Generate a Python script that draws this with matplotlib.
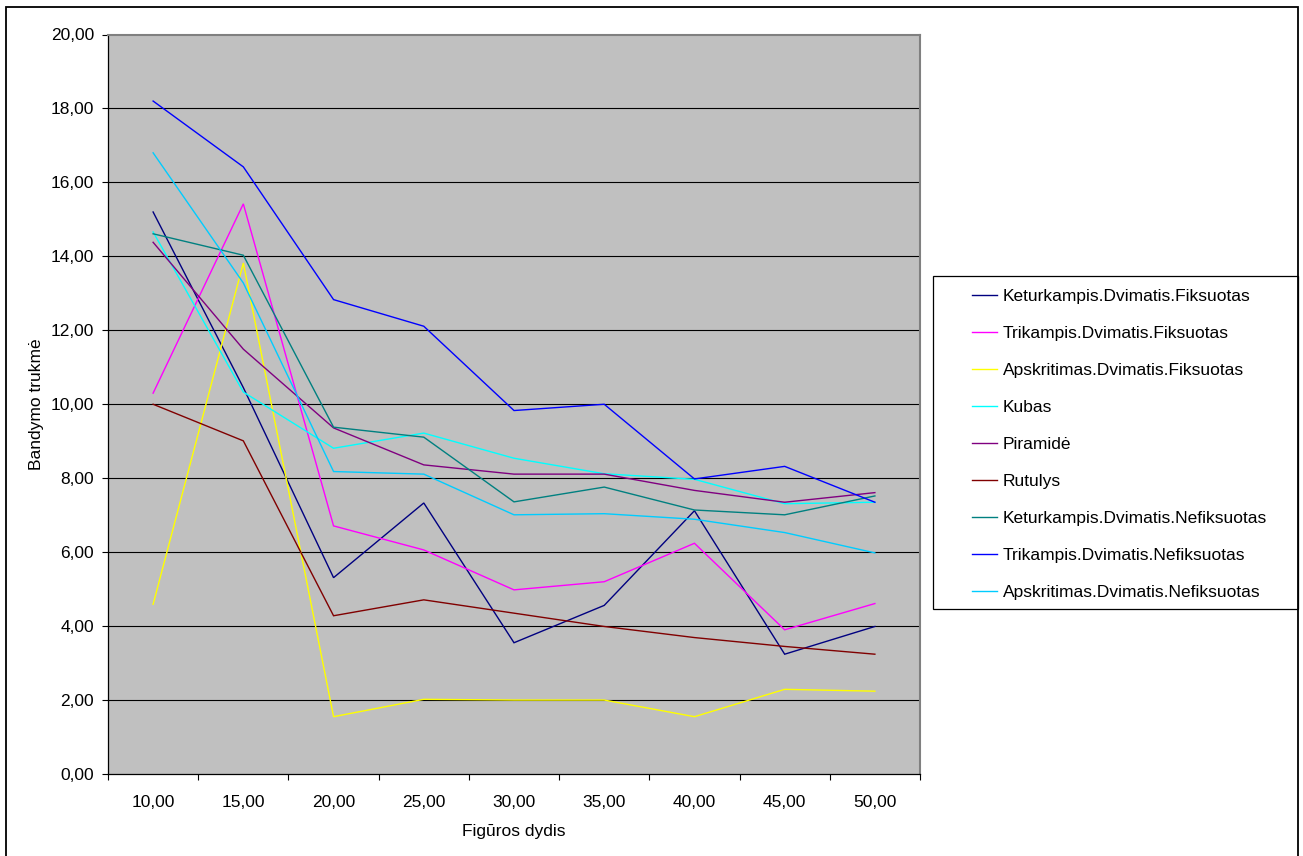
import matplotlib
matplotlib.use("Agg")
import matplotlib.pyplot as plt
from matplotlib.patches import Rectangle
from matplotlib.ticker import FixedLocator, NullFormatter, FixedFormatter

plt.rcParams['font.family'] = ['Liberation Sans', 'DejaVu Sans']

# Figure size (x axis categories)
sizes = [10, 15, 20, 25, 30, 35, 40, 45, 50]

# Test duration per shape
keturkampis_fiks = [15.20, 10.45, 5.31, 7.33, 3.55, 4.56, 7.12, 3.24, 3.99]
trikampis_fiks = [10.30, 15.42, 6.71, 6.06, 4.98, 5.20, 6.24, 3.90, 4.61]
apskritimas_fiks = [4.59, 13.82, 1.55, 2.02, 2.00, 2.00, 1.55, 2.29, 2.24]
kubas = [14.66, 10.33, 8.81, 9.22, 8.54, 8.12, 7.97, 7.31, 7.35]
piramide = [14.38, 11.49, 9.36, 8.36, 8.11, 8.11, 7.67, 7.35, 7.61]
rutulys = [10.00, 9.01, 4.28, 4.71, 4.35, 3.99, 3.69, 3.45, 3.24]
keturkampis_nef = [14.61, 14.03, 9.38, 9.11, 7.36, 7.76, 7.14, 7.01, 7.52]
trikampis_nef = [18.20, 16.42, 12.83, 12.11, 9.83, 10.00, 7.98, 8.32, 7.35]
apskritimas_nef = [16.80, 13.28, 8.18, 8.11, 7.01, 7.04, 6.89, 6.53, 5.98]

series_names = [
    "Keturkampis.Dvimatis.Fiksuotas",
    "Trikampis.Dvimatis.Fiksuotas",
    "Apskritimas.Dvimatis.Fiksuotas",
    "Kubas",
    "Piramidė",
    "Rutulys",
    "Keturkampis.Dvimatis.Nefiksuotas",
    "Trikampis.Dvimatis.Nefiksuotas",
    "Apskritimas.Dvimatis.Nefiksuotas",
]
series_values = [
    keturkampis_fiks, trikampis_fiks, apskritimas_fiks, kubas, piramide,
    rutulys, keturkampis_nef, trikampis_nef, apskritimas_nef,
]
series_colors = [
    "#000080", "#FF00FF", "#FFFF00", "#00FFFF", "#800080",
    "#800000", "#008080", "#0000FF", "#00CCFF",
]

FS = 12.5
W, H = 1303, 856
fig = plt.figure(figsize=(W / 100, H / 100), dpi=100)
fig.patch.set_facecolor("white")

left, right, top, bottom = 108, 920, 34.5, 774
ax = fig.add_axes([left / W, 1 - bottom / H, (right - left) / W, (bottom - top) / H])
ax.set_facecolor("#C0C0C0")

xpos = list(range(len(sizes)))
for name, vals, col in zip(series_names, series_values, series_colors):
    ax.plot(xpos, vals, color=col, lw=1.0, label=name, solid_joinstyle="miter")

ax.set_xlim(-0.5, len(sizes) - 0.5)
ax.set_ylim(0, 20)

# y axis
yt = [i * 2 for i in range(11)]
ax.set_yticks(yt)
ax.set_yticklabels([f"{v:.2f}".replace(".", ",") for v in yt])
for v in yt[1:-1]:
    ax.axhline(v, color="black", lw=0.8, zorder=0.5)

# x axis: ticks between categories, labels at category centres
ax.xaxis.set_major_locator(FixedLocator([i - 0.5 for i in range(len(sizes) + 1)]))
ax.xaxis.set_major_formatter(NullFormatter())
ax.xaxis.set_minor_locator(FixedLocator(xpos))
ax.xaxis.set_minor_formatter(FixedFormatter([f"{s:.2f}".replace(".", ",") for s in sizes]))
ax.tick_params(axis="x", which="major", direction="out", length=4.5, width=0.8, color="black")
ax.tick_params(axis="x", which="minor", length=0, pad=15, labelsize=FS)
ax.tick_params(axis="y", direction="out", length=4.5, width=0.8, pad=5.5, labelsize=FS)

for s in ("left", "bottom"):
    ax.spines[s].set_color("black")
    ax.spines[s].set_linewidth(0.9)
for s in ("top", "right"):
    ax.spines[s].set_color("#808080")
    ax.spines[s].set_linewidth(1.5)

ax.set_xlabel("Figūros dydis", fontsize=FS, labelpad=10.5)
ax.set_ylabel("Bandymo trukmė", fontsize=FS, labelpad=5)

# Legend
fig.patches.append(Rectangle((932.7 / W, 1 - 609 / H), 365.3 / W, 333 / H,
                             transform=fig.transFigure, fill=False,
                             edgecolor="black", lw=0.9))
ax.legend(loc="upper left", bbox_to_anchor=(972 / W, 1 - 289 / H),
          bbox_transform=fig.transFigure, frameon=False, fontsize=FS,
          borderpad=0, borderaxespad=0, handlelength=1.44, handletextpad=0.33,
          labelspacing=1.26)

# Chart border
fig.patches.append(Rectangle((6 / W, -0.02), 1292 / W, 1.02 - 7 / H,
                             transform=fig.transFigure, fill=False,
                             edgecolor="black", lw=1.3))

fig.savefig("out.png", dpi=100)
